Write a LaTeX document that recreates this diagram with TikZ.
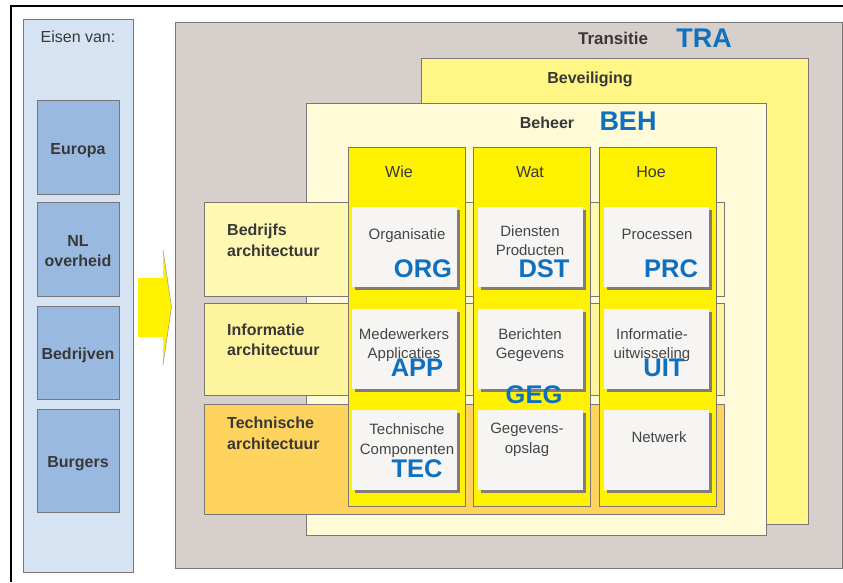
\documentclass[tikz,border=0pt]{standalone}
\usepackage{fontspec}
\setmainfont{Liberation Sans}
\usetikzlibrary{shadows}
\definecolor{edgegray}{HTML}{7A7676}
\definecolor{txtgray}{HTML}{383838}
\definecolor{celltxt}{HTML}{454545}
\definecolor{panelblue}{HTML}{D6E3F3}
\definecolor{boxblue}{HTML}{9AB9E1}
\definecolor{tragray}{HTML}{D7CFCC}
\definecolor{bevyellow}{HTML}{FFF685}
\definecolor{behyellow}{HTML}{FFFBD8}
\definecolor{rowone}{HTML}{FFF8B3}
\definecolor{rowtwo}{HTML}{FFF49E}
\definecolor{rowthree}{HTML}{FFD45E}
\definecolor{colyellow}{HTML}{FFF200}
\definecolor{cellfill}{HTML}{F6F5F3}
\definecolor{shadowgray}{HTML}{857C7A}
\definecolor{codeblue}{HTML}{1070C0}
\begin{document}
\begin{tikzpicture}[x=1pt,y=-1pt,
  box/.style={draw=edgegray, line width=0.9pt, inner sep=0pt, anchor=north west},
  cellbox/.style={box, draw=none, fill=cellfill, minimum width=105pt, minimum height=80pt,
     general shadow={fill=shadowgray, shadow xshift=3pt, shadow yshift=-3pt}},
  colbox/.style={box, fill=colyellow, minimum width=117pt, minimum height=359pt},
  rowbox/.style={box, minimum width=520pt},
  bluebox/.style={box, fill=boxblue, minimum width=82pt},
  lbl/.style={inner sep=0pt, anchor=base, text=txtgray, font=\fontsize{16}{19}\selectfont},
  blbl/.style={lbl, font=\fontsize{16}{19}\selectfont\bfseries},
  ttl/.style={lbl, font=\fontsize{17}{20}\selectfont\bfseries},
  rowlbl/.style={blbl, anchor=base west},
  celllbl/.style={lbl, text=celltxt, font=\fontsize{15}{18}\selectfont},
  code/.style={lbl, text=codeblue, font=\fontsize{25.5}{28}\selectfont\bfseries}]
\useasboundingbox (0,0) rectangle (843,582);
\fill[white] (0,0) rectangle (843,582);
% outer frame
\coordinate (fbl) at (11.2,582);
\coordinate (ftl) at (11.2,6.2);
\coordinate (ftr) at (843,6.2);
\draw[black, line width=2.5pt] (fbl) -- (ftl) -- (ftr);

% left panel
\node[box, fill=panelblue, minimum width=110pt, minimum height=553pt] (panel) at (23,19) {};
\node[lbl] (eisen) at (78,42) {Eisen van:};
\node[bluebox, minimum height=94pt] (europa) at (37,100) {};
\node[blbl] (europaT) at (78,154) {Europa};
\node[bluebox, minimum height=94pt] (nl) at (37,202) {};
\node[blbl] (nlT1) at (78,246) {NL};
\node[blbl] (nlT2) at (78,266) {overheid};
\node[bluebox, minimum height=93pt] (bedr) at (37,306) {};
\node[blbl] (bedrT) at (78,359) {Bedrijven};
\node[bluebox, minimum height=103pt] (burg) at (37,409) {};
\node[blbl] (burgT) at (78,467) {Burgers};

% arrow
\coordinate (a1) at (138,278);
\coordinate (a2) at (163,278);
\coordinate (a3) at (163,250);
\coordinate (a4) at (171.5,307);
\coordinate (a5) at (163,365);
\coordinate (a6) at (163,337);
\coordinate (a7) at (138,337);
\fill[colyellow] (a1) -- (a2) -- (a3) -- (a4) -- (a5) -- (a6) -- (a7) -- cycle;
\draw[edgegray!70, line width=0.6pt] (a3) -- (a4) -- (a5);

% Transitie
\node[box, fill=tragray, minimum width=667pt, minimum height=546pt] (tra) at (175,22) {};
\node[ttl] (traT) at (613,44) {Transitie};
\node[code, font=\fontsize{27}{30}\selectfont\bfseries] (traC) at (704,47) {TRA};

% Beveiliging
\node[box, fill=bevyellow, minimum width=387pt, minimum height=466pt] (bev) at (421,58) {};
\node[blbl] (bevT) at (590,83) {Beveiliging};

% Beheer
\node[box, fill=behyellow, minimum width=460pt, minimum height=432pt] (beh) at (306,103) {};
\node[blbl] (behT) at (547,128) {Beheer};
\node[code, font=\fontsize{27}{30}\selectfont\bfseries] (behC) at (628,130) {BEH};

% rows
\node[rowbox, fill=rowone, minimum height=94pt] (rowB) at (204,202) {};
\node[rowbox, fill=rowtwo, minimum height=92pt] (rowI) at (204,303) {};
\node[rowbox, fill=rowthree, minimum height=110pt] (rowT) at (204,404) {};
\node[rowlbl] (rowB1) at (227,235) {Bedrijfs};
\node[rowlbl] (rowB2) at (227,256) {architectuur};
\node[rowlbl] (rowI1) at (227,335) {Informatie};
\node[rowlbl] (rowI2) at (227,355) {architectuur};
\node[rowlbl] (rowT1) at (227,428) {Technische};
\node[rowlbl] (rowT2) at (227,449) {architectuur};

% columns
\node[colbox] (wie) at (348,147) {};
\node[colbox] (wat) at (473,147) {};
\node[colbox] (hoe) at (599,147) {};
\node[lbl] (wieT) at (399,177) {Wie};
\node[lbl] (watT) at (530,177) {Wat};
\node[lbl] (hoeT) at (651,177) {Hoe};

% cells
\node[cellbox] (c11) at (352,207) {};
\node[cellbox] (c12) at (478,207) {};
\node[cellbox] (c13) at (604,207) {};
\node[cellbox] (c21) at (352,309) {};
\node[cellbox] (c22) at (478,309) {};
\node[cellbox] (c23) at (604,309) {};
\node[cellbox] (c31) at (352,410) {};
\node[cellbox] (c32) at (478,410) {};
\node[cellbox] (c33) at (604,410) {};

% cell texts
\node[celllbl] (t11) at (407,239) {Organisatie};
\node[celllbl] (t12a) at (530,236) {Diensten};
\node[celllbl] (t12b) at (530,255) {Producten};
\node[celllbl] (t13) at (657,239) {Processen};
\node[celllbl] (t21a) at (404,339) {Medewerkers};
\node[celllbl] (t21b) at (404,358) {Applicaties};
\node[celllbl] (t22a) at (530,339) {Berichten};
\node[celllbl] (t22b) at (530,358) {Gegevens};
\node[celllbl] (t23a) at (652,339) {Informatie-};
\node[celllbl] (t23b) at (652,358) {uitwisseling};
\node[celllbl] (t31a) at (407,434) {Technische};
\node[celllbl] (t31b) at (407,454) {Componenten};
\node[celllbl] (t32a) at (527,433) {Gegevens-};
\node[celllbl] (t32b) at (527,453) {opslag};
\node[celllbl] (t33) at (659,442) {Netwerk};

% codes
\node[code] (org) at (423,277) {ORG};
\node[code] (dst) at (544,277) {DST};
\node[code] (prc) at (671,277) {PRC};
\node[code] (app) at (417,376) {APP};
\node[code] (geg) at (534,403) {GEG};
\node[code] (uit) at (664,376) {UIT};
\node[code] (tec) at (417,477) {TEC};
\end{tikzpicture}
\end{document}
